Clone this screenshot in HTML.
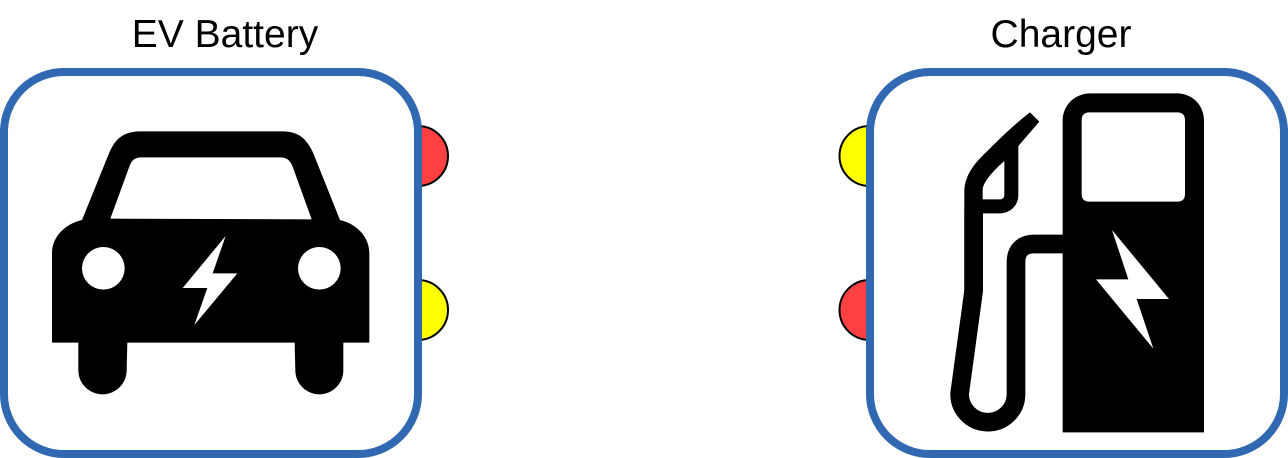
<!DOCTYPE html>
<html lang="en">
<head>
<meta charset="utf-8">
<title>EV Battery and Charger</title>
<style>
html,body{margin:0;padding:0;background:#fff;width:1288px;height:458px;overflow:hidden}
svg{display:block}
text{font-family:"Liberation Sans",sans-serif;font-size:39px;fill:#000;text-anchor:middle}
</style>
</head>
<body>
<svg width="1288" height="458" viewBox="0 0 1288 458" xmlns="http://www.w3.org/2000/svg">
  <rect width="1288" height="458" fill="#fff"/>

  <text x="225" y="47">EV Battery</text>
  <text x="1061" y="47">Charger</text>

  <circle cx="418" cy="156" r="30" fill="#FF4040" stroke="#000" stroke-width="2"/>
  <circle cx="418" cy="310" r="30" fill="#FFFF00" stroke="#000" stroke-width="2"/>
  <circle cx="869.5" cy="156" r="30" fill="#FFFF00" stroke="#000" stroke-width="2"/>
  <circle cx="869.5" cy="310" r="30" fill="#FF4040" stroke="#000" stroke-width="2"/>

  <rect x="4" y="72" width="414" height="382" rx="60" ry="60" fill="#fff" stroke="#3068B2" stroke-width="8"/>
  <rect x="870" y="72" width="414" height="382" rx="60" ry="60" fill="#fff" stroke="#3068B2" stroke-width="8"/>

  <g transform="translate(0,60) scale(0.33333)">
    <path fill="#000" fill-rule="evenodd" d="M156 848 L156 580 C156 530 195 492 246 480 L325 285 C345 235 370 215 420 214 L850 214 C895 215 920 235 940 280 L1020 480 C1070 492 1108 530 1108 580 L1108 848 L1030 848 L1030 931 A72 72 0 0 1 886 931 L884 848 L382 848 L380 931 A72.500 72 0 0 1 235 931 L235 848 Z
      M331 476 L935 478 L878 320 C870 300 860 292 840 292 L425 292 C405 292 395 300 388 320 Z"/>
    <circle cx="310" cy="625" r="64" fill="#fff"/>
    <circle cx="958" cy="625" r="64" fill="#fff"/>
    <polygon fill="#fff" points="677,528 548,684 622,684 583,795 712,640 638,640"/>
  </g>

  <g transform="translate(830,60) scale(0.33333)">
    <path fill="#000" fill-rule="evenodd" d="M698 1117 L698 182 C698 135 735 100 782 100 L1040 100 C1087 100 1122 135 1122 182 L1122 1117 Z
      M778 157 C763 157 755 165 755 180 L755 402 C755 417 763 425 778 425 L1042 425 C1057 425 1065 417 1065 402 L1065 180 C1065 165 1057 157 1042 157 Z"/>
    <polygon fill="#fff" points="846,510 895,658 798,658 970,866 920,717 1017,717"/>
    <path fill="none" stroke="#000" stroke-width="56" d="M700 552 L612 552 C578 552 558 572 558 606 L558 1005 A84.500 84 0 0 1 389 1000 L431 692 L431 440"/>
    <path fill="#000" fill-rule="evenodd" d="M403 695 L403 395 C403 355 425 320 455 290 C500 245 550 195 600 157 L628 185 L565 258 L565 405 C565 437 540 460 510 460 L458 460 L458 695 Z
      M458 418 L510 418 C518 418 523 413 523 405 L523 303 C495 328 458 365 458 390 Z"/>
  </g>
</svg>
</body>
</html>
